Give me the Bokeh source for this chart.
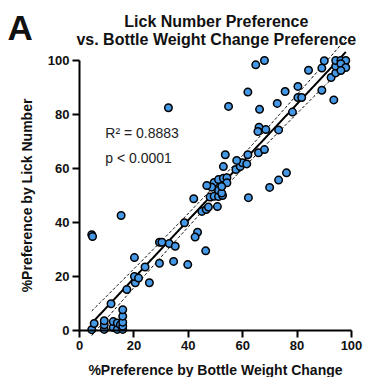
import numpy as np
from bokeh.plotting import figure
from bokeh.models import Range1d, FixedTicker, Label
from bokeh.embed import file_html
from bokeh.resources import INLINE

# %Preference by bottle weight change (x) and by lick number (y)
bw_change = [4.5, 5.4, 9.1, 9.1, 9.1, 12.4, 12.4, 13.9, 13.9, 15.0,
             15.9, 15.9, 15.9, 15.9, 15.9, 11.6, 17.4, 20.5, 20.2, 21.7,
             25.7, 24.1, 20.2, 29.4, 29.4, 30.3, 33.0, 4.5, 4.8, 15.3,
             35.2, 34.6, 39.8, 38.6, 43.4, 42.5, 46.4, 42.0, 48.0, 49.5,
             51.1, 62.1, 45.0, 46.6, 47.4, 50.7, 52.6, 51.1, 52.3, 49.5,
             51.1, 52.9, 54.2, 54.2, 52.3, 48.6, 46.8, 52.9, 57.5, 59.1,
             59.9, 61.5, 57.8, 53.6, 61.9, 65.8, 68.0, 66.0, 65.6, 68.5,
             73.2, 69.9, 73.2, 76.1, 66.2, 54.8, 32.7, 61.9, 75.6, 64.8,
             68.0, 72.7, 78.3, 80.3, 81.7, 80.3, 84.2, 89.1, 93.5, 89.1,
             90.0, 92.5, 94.2, 94.2, 94.2, 96.1, 97.9, 96.1, 97.9, 96.1]
lick_number = [0.3, 2.6, 0.4, 2.1, 3.6, 1.1, 3.3, 0.4, 2.8, 2.1,
               0.4, 1.6, 3.1, 5.3, 7.7, 9.9, 15.2, 17.7, 20.0, 19.4,
               17.7, 23.5, 27.0, 24.9, 32.7, 32.7, 32.2, 35.5, 34.8, 42.6,
               31.2, 25.6, 24.4, 39.9, 36.4, 34.6, 29.5, 48.8, 49.4, 49.7,
               49.6, 49.2, 44.1, 44.8, 45.7, 45.9, 50.0, 51.9, 50.9, 54.8,
               55.9, 56.4, 56.6, 54.7, 53.3, 53.1, 53.7, 60.7, 59.6, 60.7,
               62.1, 61.7, 63.0, 65.1, 65.1, 65.8, 67.0, 75.3, 73.7, 74.4,
               74.3, 53.0, 55.7, 58.4, 81.9, 83.0, 82.5, 88.3, 88.5, 98.4,
               100.0, 84.1, 80.9, 86.3, 86.3, 90.4, 96.4, 89.0, 85.4, 97.2,
               99.9, 93.7, 95.4, 97.9, 100.0, 100.0, 100.0, 98.8, 97.4, 96.3]

axis_ticks = [0, 20, 40, 60, 80, 100]
stats_text = ["R\u00b2 = 0.8883", "p < 0.0001"]
title_lines = ["Lick Number Preference", "vs. Bottle Weight Change Preference"]
panel_letter = "A"

x = np.array(bw_change)
y = np.array(lick_number)
n = len(x)
slope, intercept = np.polyfit(x, y, 1)
xs = np.linspace(x.min(), x.max(), 200)
yfit = slope * xs + intercept
resid = y - (slope * x + intercept)
s = np.sqrt(np.sum(resid ** 2) / (n - 2))
sxx = np.sum((x - x.mean()) ** 2)
t = 1.984
ci = t * s * np.sqrt(1.0 / n + (xs - x.mean()) ** 2 / sxx)

# canvas geometry (pixels): data origin and scale
W, H = 365, 377
X0, KX = 79.0, 2.72     # canvas x of data x=0, px per unit
Y0, KY = 330.0, 2.70    # canvas y (from top) of data y=0, px per unit
x_range = Range1d(-X0 / KX, (W - X0) / KX)
y_range = Range1d((Y0 - H) / KY, Y0 / KY)

p = figure(width=W, height=H, output_backend="svg", toolbar_location=None,
           x_range=x_range, y_range=y_range, min_border=0)
p.grid.visible = False
p.outline_line_color = None
p.background_fill_color = "white"

FONT = "Liberation Sans"
for ax in (p.xaxis[0], p.yaxis[0]):
    ax.ticker = FixedTicker(ticks=axis_ticks)
    ax.bounds = (0, 100)
    ax.fixed_location = 0
    ax.axis_line_width = 2
    ax.axis_line_color = "black"
    ax.major_tick_line_width = 2
    ax.major_tick_line_color = "black"
    ax.major_tick_out = 7
    ax.major_tick_in = 0
    ax.minor_tick_line_color = None
    ax.major_label_text_font = FONT
    ax.major_label_text_font_style = "bold"
    ax.major_label_text_font_size = "13px"
    ax.major_label_text_color = "#111111"
    ax.axis_label_text_font = FONT
    ax.axis_label_text_font_style = "bold"
    ax.axis_label_text_font_size = "14px"
    ax.axis_label_text_color = "#111111"

p.xaxis.axis_label = "%Preference by Bottle Weight Change"
p.yaxis.axis_label = "%Preference by Lick Number"
p.xaxis.major_label_standoff = 3
p.yaxis.major_label_standoff = 3
p.xaxis.axis_label_standoff = 9
p.yaxis.axis_label_standoff = 10

p.line(xs, yfit + ci, line_color="black", line_width=1, line_dash="3 2")
p.line(xs, yfit - ci, line_color="black", line_width=1, line_dash="3 2")
p.line(xs, yfit, line_color="black", line_width=2)

p.scatter(x, y, size=7.5, fill_color="#4598e6", line_color="black", line_width=1.5)

p.add_layout(Label(x=9.5, y=73.3, text=stats_text[0], text_font=FONT,
                   text_font_size="14px", text_baseline="middle", text_color="#222222"))
p.add_layout(Label(x=9.5, y=64.0, text=stats_text[1], text_font=FONT,
                   text_font_size="14px", text_baseline="middle", text_color="#222222"))

p.add_layout(Label(x=50.3, y=(Y0 - 21) / KY, text=title_lines[0], text_font=FONT,
                   text_font_size="16px", text_font_style="bold", text_align="center",
                   text_baseline="alphabetic", text_color="#111111"))
p.add_layout(Label(x=50.3, y=(Y0 - 39) / KY, text=title_lines[1], text_font=FONT,
                   text_font_size="16px", text_font_style="bold", text_align="center",
                   text_baseline="alphabetic", text_color="#111111"))
p.add_layout(Label(x=(7 - X0) / KX, y=(Y0 - 27) / KY, text=panel_letter, text_font=FONT,
                   text_font_size="35px", text_font_style="bold", text_align="left",
                   text_baseline="alphabetic", text_color="#111111"))

open("out.html", "w").write(file_html(p, INLINE))
